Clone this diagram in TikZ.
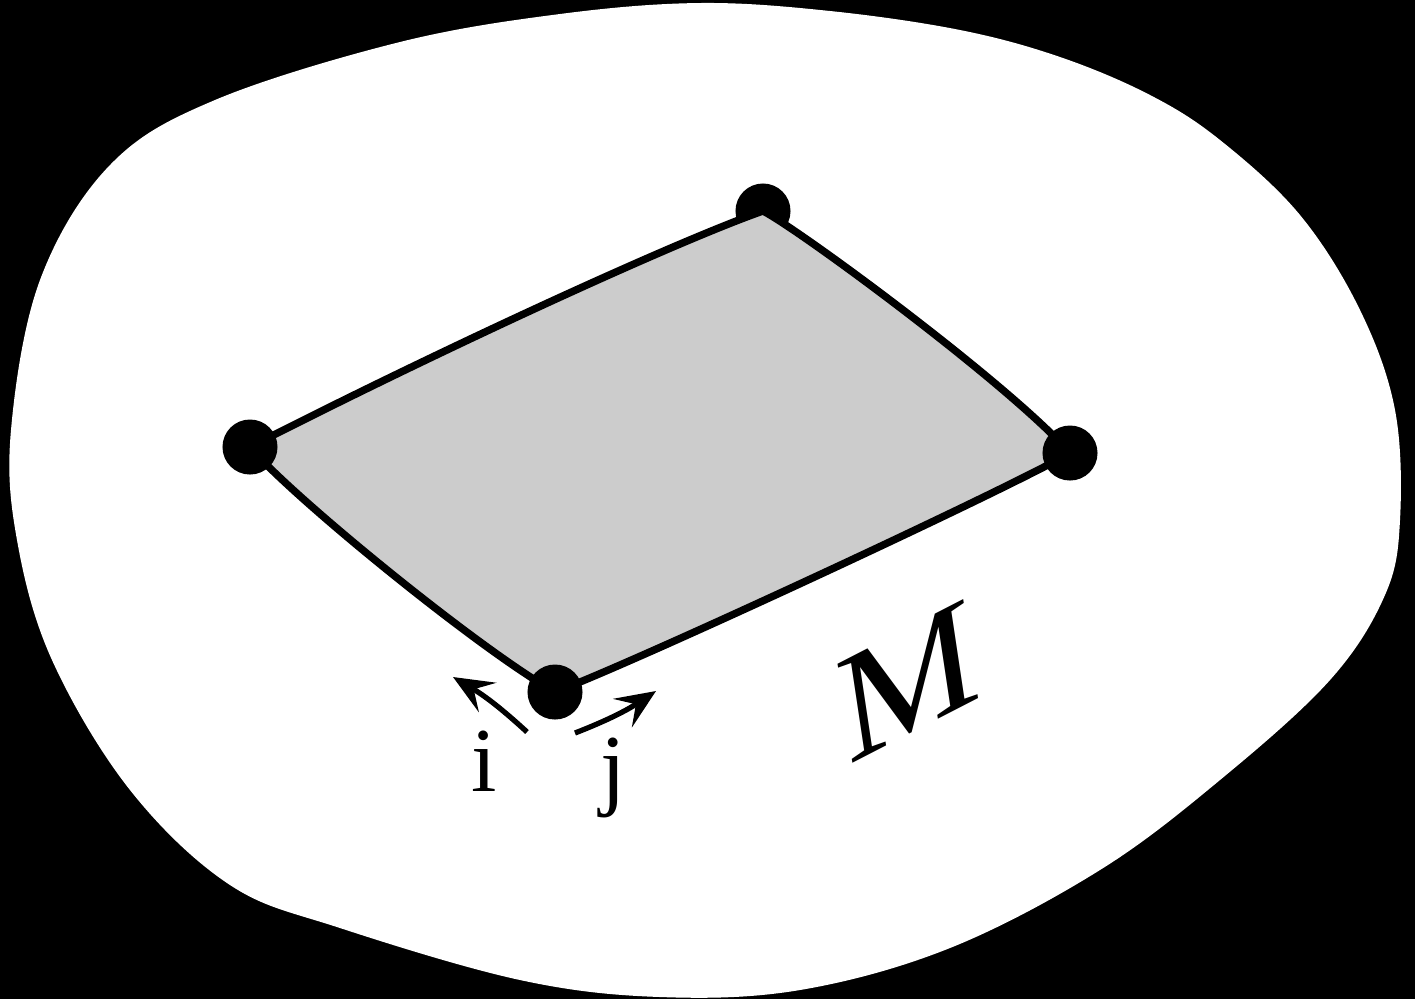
\documentclass[tikz,border=0pt]{standalone}
\usepackage{fontspec}
\setmainfont{Liberation Serif}
\usepackage{tikz}
\usetikzlibrary{arrows.meta}

\begin{document}
\begin{tikzpicture}[x=0.01cm,y=-0.01cm,
  dot/.style={circle,fill=black,inner sep=0pt,minimum size=0.55cm},
  edge/.style={line width=2.1pt,line join=round},
  ar/.style={line width=1.5pt,-{Stealth[length=4mm,width=3.4mm,inset=1.6mm]}},
  lbl/.style={font=\fontsize{26}{30}\selectfont}]
\useasboundingbox (0,0) rectangle (1415,999);
\fill[black] (0,0) rectangle (1415,999);
% the surface
\fill[white] plot[smooth cycle,tension=0.6] coordinates {
  (11,430) (40,280) (110,165) (215,100) (400,42) (560,14) (700,3) (830,11)
  (960,30) (1060,57) (1150,95) (1220,140) (1300,215) (1360,310) (1395,410)
  (1400,520) (1385,595) (1330,680) (1220,780) (1100,870) (950,948) (800,990)
  (660,997) (520,980) (340,928) (230,885) (130,790) (52,660) (17,540)};
% corners of the patch
\coordinate (l) at (250,447);
\coordinate (t) at (763,211);
\coordinate (r) at (1070,453);
\coordinate (b) at (555,692);
\node[dot] (tv) at (t) {};
\filldraw[edge,fill=black!20] (l) .. controls (450,345) and (680,240) .. (t)
  .. controls (800,230) and (1010,385) .. (r)
  .. controls (1010,488) and (640,660) .. (b)
  .. controls (480,650) and (290,495) .. cycle;
\node[dot] (lv) at (l) {};
\node[dot] (rv) at (r) {};
\node[dot] (bv) at (b) {};
% directions at the bottom corner
\coordinate (i0) at (527,732);
\coordinate (i1) at (453,677);
\coordinate (j0) at (575,733);
\coordinate (j1) at (656,691);
\draw[ar] (i0) to[bend right=6] (i1);
\draw[ar] (j0) to[bend right=6] (j1);
\node[lbl] (il) at (484,761) {i};
\node[lbl] (jl) at (613,778) {j};
\begin{scope}[shift={(908,681)}]
\node[cm={1,0.515,-0.15,1,(0,0)},font=\fontsize{43}{46}\selectfont,inner sep=0pt] (m) at (0,0) {M};
\end{scope}
\end{tikzpicture}
\end{document}
